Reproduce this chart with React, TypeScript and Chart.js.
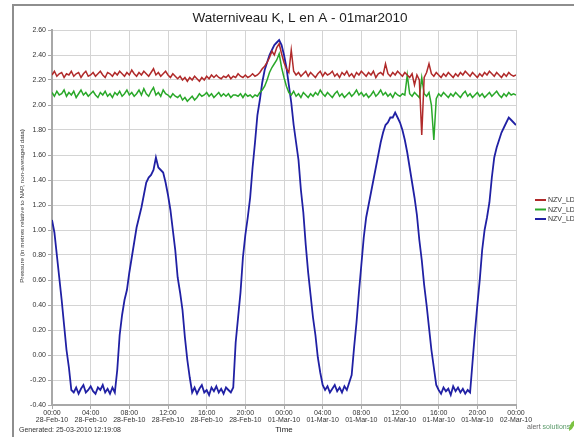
import React, { useEffect, useRef } from "react";
import { Chart, registerables } from "chart.js";

Chart.register(...registerables);

const FONT = "'Liberation Sans', Arial, sans-serif";
const TITLE = "Waterniveau K, L en A - 01mar2010";
const Y_TITLE = "Pressure (in metres relative to NAP, non-averaged data)";
const X_TITLE = "Time";
const FOOTER = "Generated: 25-03-2010 12:19:08";

// sampling interval of the series, in hours (15 minutes), starting 00:00 28-Feb-10
const STEP_HOURS = 0.25;

const TICK_TIMES = ["00:00", "04:00", "08:00", "12:00", "16:00", "20:00", "00:00", "04:00", "08:00", "12:00", "16:00", "20:00", "00:00"];
const TICK_DATES = ["28-Feb-10", "28-Feb-10", "28-Feb-10", "28-Feb-10", "28-Feb-10", "28-Feb-10", "01-Mar-10", "01-Mar-10", "01-Mar-10", "01-Mar-10", "01-Mar-10", "01-Mar-10", "02-Mar-10"];

const SERIES_NAMES = ["NZV_LD_", "NZV_LD_", "NZV_LD"];
const SERIES_COLORS = ["#b02a2a", "#2aa82a", "#2020a4"];

const RED = [
  2.24, 2.27, 2.23, 2.25,
  2.26, 2.22, 2.25, 2.24,
  2.27, 2.23, 2.25, 2.26,
  2.22, 2.25, 2.27, 2.23,
  2.24, 2.26, 2.23, 2.25,
  2.27, 2.24, 2.22, 2.26,
  2.25, 2.23, 2.26, 2.24,
  2.27, 2.25, 2.23, 2.26,
  2.24, 2.28, 2.25, 2.23,
  2.26, 2.24, 2.27, 2.25,
  2.23, 2.26, 2.29, 2.24,
  2.26, 2.23, 2.25, 2.27,
  2.24, 2.22, 2.25, 2.23,
  2.21, 2.23, 2.20, 2.22,
  2.19, 2.22, 2.20, 2.23,
  2.21, 2.19, 2.22, 2.20,
  2.23, 2.21, 2.24, 2.22,
  2.24, 2.22, 2.21, 2.23,
  2.22, 2.24, 2.21, 2.23,
  2.22, 2.25, 2.23, 2.22,
  2.24, 2.22, 2.23, 2.25,
  2.23, 2.24, 2.26, 2.29,
  2.31, 2.34, 2.38, 2.43,
  2.40, 2.46, 2.49, 2.41,
  2.34, 2.29, 2.26, 2.44,
  2.27, 2.24, 2.26, 2.23,
  2.25, 2.27, 2.23, 2.26,
  2.24, 2.22, 2.25, 2.27,
  2.23, 2.26, 2.24, 2.25,
  2.27, 2.23, 2.25, 2.22,
  2.26, 2.24, 2.27, 2.23,
  2.25, 2.22, 2.26, 2.24,
  2.27, 2.25, 2.23, 2.26,
  2.24, 2.27, 2.22, 2.25,
  2.26, 2.24, 2.33, 2.25,
  2.23, 2.26, 2.24, 2.27,
  2.25, 2.23, 2.26, 2.24,
  2.22, 2.25, 2.16, 2.24,
  2.20, 1.76, 2.22, 2.26,
  2.33, 2.25, 2.23, 2.26,
  2.24, 2.22, 2.25, 2.23,
  2.26, 2.24, 2.22, 2.25,
  2.23, 2.26, 2.24, 2.27,
  2.25, 2.23, 2.26, 2.24,
  2.22, 2.25, 2.23, 2.26,
  2.24, 2.27, 2.25, 2.23,
  2.26, 2.24, 2.22, 2.25,
  2.23, 2.26, 2.24, 2.23,
  2.24,
];

const GREEN = [
  2.10, 2.07, 2.11, 2.08,
  2.09, 2.12, 2.07, 2.10,
  2.08, 2.11, 2.06, 2.09,
  2.12, 2.08, 2.10, 2.07,
  2.09, 2.11, 2.08, 2.06,
  2.10, 2.08, 2.11, 2.07,
  2.09, 2.06, 2.10, 2.08,
  2.11, 2.07, 2.09, 2.12,
  2.08, 2.10, 2.07, 2.09,
  2.12, 2.08, 2.13, 2.09,
  2.07, 2.11, 2.14, 2.08,
  2.10, 2.07, 2.12, 2.09,
  2.08, 2.06, 2.09, 2.07,
  2.06, 2.08, 2.04, 2.06,
  2.03, 2.05, 2.07, 2.04,
  2.06, 2.09, 2.07, 2.08,
  2.10, 2.07, 2.09, 2.06,
  2.08, 2.10, 2.07, 2.09,
  2.07, 2.09, 2.06, 2.08,
  2.08, 2.07, 2.09, 2.06,
  2.09, 2.07, 2.08, 2.06,
  2.08, 2.07, 2.10, 2.12,
  2.15, 2.20, 2.26, 2.30,
  2.33, 2.36, 2.41, 2.30,
  2.22, 2.15, 2.10, 2.08,
  2.11, 2.07, 2.09, 2.06,
  2.10, 2.08, 2.06, 2.09,
  2.07, 2.10, 2.08, 2.12,
  2.09, 2.07, 2.10, 2.08,
  2.06, 2.09, 2.11, 2.07,
  2.09, 2.06, 2.08, 2.10,
  2.07, 2.09, 2.12, 2.08,
  2.10, 2.07, 2.09, 2.06,
  2.08, 2.11, 2.07, 2.09,
  2.12, 2.08, 2.10, 2.07,
  2.09, 2.06, 2.10, 2.08,
  2.07, 2.09, 2.08, 2.24,
  2.09, 2.07, 2.10, 2.08,
  2.06, 2.22, 2.09, 2.07,
  2.10, 2.00, 1.72, 2.05,
  2.09, 2.07, 2.10, 2.08,
  2.06, 2.09, 2.07, 2.10,
  2.08, 2.06, 2.09, 2.11,
  2.07, 2.09, 2.06, 2.08,
  2.10, 2.07, 2.09, 2.06,
  2.08, 2.10, 2.07, 2.09,
  2.11, 2.08, 2.06, 2.09,
  2.07, 2.10, 2.08, 2.09,
  2.08,
];

const BLUE = [
  1.08, 0.98, 0.80, 0.62,
  0.44, 0.24, 0.04, -0.10,
  -0.28, -0.30, -0.26, -0.31,
  -0.27, -0.24, -0.30, -0.28,
  -0.25, -0.29, -0.31, -0.26,
  -0.28, -0.24, -0.30, -0.27,
  -0.31, -0.26, -0.30, -0.12,
  0.16, 0.32, 0.44, 0.52,
  0.66, 0.78, 0.90, 1.02,
  1.10, 1.18, 1.28, 1.38,
  1.42, 1.44, 1.48, 1.58,
  1.50, 1.48, 1.46, 1.38,
  1.28, 1.16, 1.00, 0.84,
  0.62, 0.50, 0.36, 0.14,
  -0.04, -0.18, -0.30, -0.26,
  -0.31, -0.27, -0.24, -0.30,
  -0.28, -0.32, -0.26, -0.29,
  -0.25, -0.30, -0.27, -0.31,
  -0.26, -0.28, -0.30, -0.26,
  0.10, 0.30, 0.50, 0.78,
  0.96, 1.10, 1.26, 1.50,
  1.70, 1.92, 2.04, 2.18,
  2.28, 2.34, 2.40, 2.44,
  2.48, 2.50, 2.52, 2.48,
  2.40, 2.30, 2.16, 2.02,
  1.84, 1.70, 1.56, 1.32,
  1.14, 0.88, 0.66, 0.48,
  0.30, 0.16, -0.02, -0.14,
  -0.24, -0.28, -0.25, -0.30,
  -0.27, -0.24, -0.29, -0.26,
  -0.30, -0.25, -0.28, -0.22,
  -0.16, 0.06, 0.26, 0.50,
  0.72, 0.94, 1.10, 1.20,
  1.30, 1.40, 1.50, 1.60,
  1.70, 1.78, 1.84, 1.86,
  1.90, 1.90, 1.94, 1.90,
  1.86, 1.80, 1.72, 1.62,
  1.50, 1.38, 1.26, 1.12,
  0.92, 0.76, 0.56, 0.40,
  0.22, 0.04, -0.10, -0.24,
  -0.28, -0.31, -0.26, -0.29,
  -0.27, -0.32, -0.25, -0.29,
  -0.26, -0.30, -0.27, -0.31,
  -0.28, -0.30, -0.06, 0.18,
  0.40, 0.60, 0.84, 1.00,
  1.10, 1.22, 1.42, 1.58,
  1.66, 1.72, 1.78, 1.82,
  1.86, 1.90, 1.88, 1.86,
  1.84,
];

const SERIES = [RED, GREEN, BLUE];
const SERIES_WIDTHS = [1.5, 1.5, 1.8];

const toPoints = (vals: number[]) => vals.map((v, i) => ({ x: i * STEP_HOURS, y: v }));

const decorPlugin = {
  id: "decor",
  beforeDraw(chart: any) {
    const ctx = chart.ctx;
    ctx.save();
    ctx.strokeStyle = "#8e8e8e";
    ctx.lineWidth = 2;
    ctx.beginPath();
    ctx.moveTo(13, chart.height);
    ctx.lineTo(13, 5);
    ctx.lineTo(chart.width, 5);
    ctx.stroke();
    ctx.restore();
  },
  afterDraw(chart: any) {
    const ctx = chart.ctx;
    const area = chart.chartArea;
    ctx.save();
    // title
    ctx.fillStyle = "#1e1e1e";
    ctx.font = `13.5px ${FONT}`;
    ctx.textAlign = "center";
    ctx.textBaseline = "middle";
    ctx.fillText(TITLE, 300, 18);
    // y-axis title
    ctx.save();
    ctx.translate(22, 206);
    ctx.rotate(-Math.PI / 2);
    ctx.fillStyle = "#333";
    ctx.font = `6.2px ${FONT}`;
    ctx.fillText(Y_TITLE, 0, 0);
    ctx.restore();
    // legend
    ctx.font = `7px ${FONT}`;
    ctx.textAlign = "left";
    SERIES_NAMES.forEach((name, i) => {
      const y = 200 + i * 9.5;
      ctx.strokeStyle = SERIES_COLORS[i];
      ctx.lineWidth = 2;
      ctx.beginPath();
      ctx.moveTo(area.right + 19, y);
      ctx.lineTo(area.right + 30, y);
      ctx.stroke();
      ctx.fillStyle = "#333";
      ctx.fillText(name, area.right + 32, y + 0.5);
    });
    // footer
    ctx.fillStyle = "#333";
    ctx.font = `7px ${FONT}`;
    ctx.fillText(FOOTER, 19, 430);
    // brand
    ctx.fillStyle = "#666";
    ctx.fillText("alert", 527, 427);
    const w = ctx.measureText("alert ").width;
    ctx.fillStyle = "#5a9a6a";
    ctx.fillText("solutions", 527 + w, 427);
    ctx.fillStyle = "#7cc242";
    ctx.beginPath();
    ctx.moveTo(569, 431);
    ctx.quadraticCurveTo(569, 423, 575, 420);
    ctx.quadraticCurveTo(575, 428, 569, 431);
    ctx.fill();
    ctx.restore();
  },
};

export default function App() {
  const ref = useRef<HTMLCanvasElement | null>(null);
  useEffect(() => {
    if (!ref.current) return;
    const chart = new Chart(ref.current, {
      type: "line",
      data: {
        datasets: SERIES.map((vals, i) => ({
          label: SERIES_NAMES[i],
          data: toPoints(vals),
          borderColor: SERIES_COLORS[i],
          backgroundColor: SERIES_COLORS[i],
          borderWidth: SERIES_WIDTHS[i],
          pointRadius: 0,
          tension: 0,
        })),
      },
      options: {
        animation: false,
        responsive: false,
        devicePixelRatio: 1,
        layout: { padding: { left: 13, top: 30, right: 58, bottom: 0 } },
        plugins: {
          legend: { display: false },
          title: { display: false },
          tooltip: { enabled: false },
        },
        scales: {
          x: {
            type: "linear",
            min: 0,
            max: 48,
            afterFit: (s: any) => { s.height = 32; },
            ticks: {
              stepSize: 4,
              autoSkip: false,
              maxRotation: 0,
              color: "#333",
              padding: 1,
              font: { family: FONT, size: 7, lineHeight: 1 },
              callback: (v: any) => [TICK_TIMES[Math.round(v / 4)], TICK_DATES[Math.round(v / 4)]],
            },
            grid: { color: "#d4d4d4", tickLength: 4, tickColor: "#a8a8a8" },
            border: { color: "#a8a8a8", width: 2 },
            title: { display: true, text: X_TITLE, color: "#222", font: { family: FONT, size: 8 }, padding: { top: 0, bottom: 2 } },
          },
          y: {
            type: "linear",
            min: -0.4,
            max: 2.6,
            afterFit: (s: any) => { s.width = 39; },
            ticks: {
              stepSize: 0.2,
              color: "#333",
              padding: 2,
              font: { family: FONT, size: 7 },
              callback: (v: any) => Number(v).toFixed(2),
            },
            grid: { color: "#d4d4d4", tickLength: 4, tickColor: "#a8a8a8" },
            border: { color: "#a8a8a8", width: 2 },
            title: { display: false },
          },
        },
      },
      plugins: [decorPlugin],
    } as any);
    return () => chart.destroy();
  }, []);
  return (
    <div style={{ position: "fixed", left: 0, top: 0, width: 574, height: 437, background: "#fff" }}>
      <canvas ref={ref} width={574} height={437} />
    </div>
  );
}
